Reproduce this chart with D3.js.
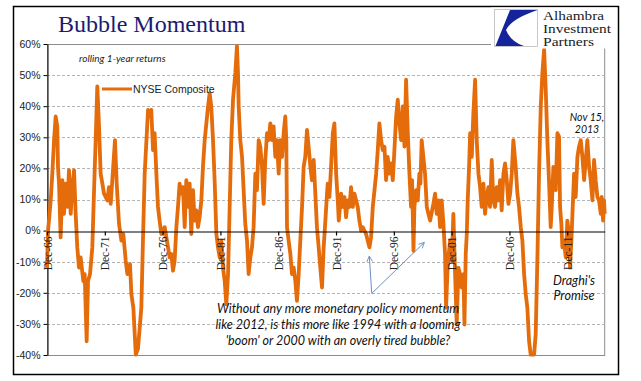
<!DOCTYPE html>
<html>
<head>
<meta charset="utf-8">
<script src="https://cdn.jsdelivr.net/npm/d3@7"></script>
<style>
  body { margin: 0; background: #fff; }
  svg { display: block; }
</style>
</head>
<body>
<script>
// ----- Data -----

// position of each point on the chart's date axis (decimal years)
const yearPos = [
  1966.92, 1967.01, 1967.09, 1967.24, 1967.38, 1967.53, 1967.67, 1967.81, 1967.87, 1967.96,
  1968.10, 1968.25, 1968.39, 1968.53, 1968.68, 1968.82, 1968.97, 1969.11, 1969.26, 1969.40,
  1969.54, 1969.69, 1969.83, 1970.06, 1970.18, 1970.35, 1970.47, 1970.64, 1970.84, 1970.99,
  1971.13, 1971.27, 1971.42, 1971.56, 1971.71, 1971.85, 1972.14, 1972.28, 1972.43, 1972.57,
  1972.80, 1972.95, 1973.15, 1973.35, 1973.52, 1973.73, 1973.87, 1974.10, 1974.22, 1974.39,
  1974.60, 1974.79, 1975.08, 1975.22, 1975.37, 1975.66, 1975.80, 1975.94, 1976.09, 1976.23,
  1976.38, 1976.52, 1976.66, 1976.81, 1977.10, 1977.39, 1977.53, 1977.67, 1977.82, 1977.96,
  1978.11, 1978.25, 1978.39, 1978.54, 1978.68, 1978.83, 1978.97, 1979.12, 1979.26, 1979.40,
  1979.55, 1979.69, 1979.84, 1979.98, 1980.12, 1980.27, 1980.41, 1980.56, 1980.85, 1980.99,
  1981.13, 1981.28, 1981.42, 1981.57, 1981.71, 1981.86, 1982.00, 1982.14, 1982.29, 1982.43,
  1982.58, 1982.72, 1982.86, 1983.01, 1983.21, 1983.35, 1983.44, 1983.50, 1983.64, 1983.79,
  1983.93, 1984.07, 1984.22, 1984.36, 1984.51, 1984.65, 1984.79, 1984.94, 1985.08, 1985.23,
  1985.37, 1985.52, 1985.66, 1985.80, 1985.95, 1986.09, 1986.24, 1986.38, 1986.52, 1986.67,
  1986.81, 1986.96, 1987.10, 1987.25, 1987.39, 1987.53, 1987.62, 1987.68, 1987.82, 1987.97,
  1988.11, 1988.26, 1988.40, 1988.54, 1988.69, 1988.83, 1988.98, 1989.12, 1989.26, 1989.41,
  1989.55, 1989.70, 1989.84, 1989.99, 1990.13, 1990.27, 1990.42, 1990.56, 1990.71, 1990.85,
  1991.00, 1991.14, 1991.20, 1991.35, 1991.49, 1991.64, 1991.78, 1991.93, 1992.07, 1992.16,
  1992.36, 1992.50, 1992.65, 1992.79, 1992.93, 1993.08, 1993.22, 1993.37, 1993.51, 1993.66,
  1993.80, 1993.94, 1994.09, 1994.23, 1994.52, 1994.66, 1994.81, 1994.95, 1995.10, 1995.39,
  1995.53, 1995.67, 1995.82, 1995.96, 1996.11, 1996.25, 1996.39, 1996.54, 1996.68, 1996.83,
  1996.97, 1997.12, 1997.26, 1997.40, 1997.55, 1997.69, 1997.84, 1997.98, 1998.13, 1998.27,
  1998.41, 1998.50, 1998.62, 1998.70, 1998.85, 1998.99, 1999.13, 1999.22, 1999.33, 1999.62,
  1999.77, 1999.91, 2000.06, 2000.34, 2000.49, 2000.63, 2000.78, 2000.92, 2001.06, 2001.21,
  2001.35, 2001.44, 2001.55, 2001.64, 2001.79, 2001.93, 2002.07, 2002.22, 2002.36, 2002.51,
  2002.65, 2002.79, 2002.94, 2003.03, 2003.14, 2003.23, 2003.31, 2003.43, 2003.52, 2003.66,
  2003.80, 2003.95, 2004.09, 2004.24, 2004.38, 2004.52, 2004.67, 2004.81, 2004.96, 2005.10,
  2005.24, 2005.39, 2005.53, 2005.68, 2005.82, 2005.97, 2006.11, 2006.25, 2006.40, 2006.54,
  2006.69, 2006.83, 2006.98, 2007.12, 2007.26, 2007.38, 2007.46, 2007.61, 2007.75, 2007.90,
  2008.04, 2008.19, 2008.33, 2008.47, 2008.62, 2008.76, 2009.05, 2009.19, 2009.34, 2009.48,
  2009.63, 2009.77, 2009.92, 2010.06, 2010.20, 2010.35, 2010.49, 2010.58, 2010.72, 2010.92,
  2011.07, 2011.21, 2011.30, 2011.41, 2011.50, 2011.64, 2011.79, 2011.93, 2012.08, 2012.16,
  2012.28, 2012.37, 2012.51, 2012.65, 2012.80, 2012.94, 2013.09, 2013.23, 2013.38, 2013.52,
  2013.66, 2013.81, 2013.95, 2014.10, 2014.24, 2014.38, 2014.53, 2014.67, 2014.82, 2014.90,
  2015.02, 2015.10, 2015.16
];

// NYSE Composite, rolling 1-year return (%)
const nyseReturns = [
  -12, 0, 3.2, 9.7, 18.3, 29.1, 36.7, 33.5, 20.5, 15.1,
  -2.2, 16.2, 5.4, 15.1, 7.6, 19.4, 5.4, 14.0, 19.4, 5.4,
  -5.4, -11.9, -8.6, -16.2, -14.0, -35.6, -16.2, -14.0, -5.4, 13.0,
  29.1, 46.4, 33.5, 18.3, 15.1, 11.9, 9.7, 14.0, 8.6, 16.2,
  29.1, 15.1, 2.2, -3.2, -1.1, -9.7, -14.0, -10.8, -20.5, -24.8,
  -39.9, -38.0, -24.8, -3.2, 18.3, 38.8, 36.7, 38.8, 25.9, 31.3,
  18.3, 7.6, 3.2, -1.1, 1.1, -5.4, -8.6, -7.5, -12.9, -9.7,
  1.1, 7.6, 15.1, 11.9, 14.0, 1.1, 16.2, 7.6, 15.1, -1.1,
  13.0, 3.2, 6.5, 1.1, 4.3, 9.7, 20.5, 29.1, 39.9, 44.2,
  39.9, 29.1, 16.2, -1.1, -5.4, -8.6, -3.2, -11.9, -16.2, -23.7,
  -14.0, 7.6, 29.1, 42.1, 50.7, 59.3, 50.7, 39.9, 29.1, 23.7,
  13.0, 2.2, -3.2, -14.0, -8.6, -5.4, 1.1, 18.3, 13.0, 29.1,
  27.0, 20.5, 8.6, 22.7, 31.3, 29.1, 34.5, 29.1, 33.5, 23.7,
  29.1, 18.3, 29.1, 23.7, 31.3, 36.7, 29.1, 1.1, -3.2, -7.5,
  -14.0, -11.9, -16.2, -22.6, -14.0, -3.2, 7.6, 20.5, 23.7, 32.4,
  27.0, 20.5, 16.2, 22.7, 11.9, 1.1, -5.4, -11.9, -18.3, -5.4,
  3.2, 11.9, 15.1, 10.8, 20.5, 31.3, 34.5, 18.3, 9.7, 3.2,
  11.9, 7.6, 10.8, 4.3, 9.7, 7.6, 14.0, 7.6, 11.9, 9.7,
  7.6, 3.2, 0.0, 1.1, -1.1, -3.2, -5.4, -2.2, 7.6, 18.3,
  25.9, 34.5, 29.1, 25.9, 27.0, 16.2, 23.7, 18.3, 21.6, 16.2,
  25.9, 36.7, 42.1, 34.5, 29.1, 39.9, 27.0, 48.5, 31.3, 18.3,
  7.6, 16.2, -6.5, 7.6, 13.0, 9.7, 18.3, 15.1, 29.1, 18.3,
  7.6, 5.4, 3.2, 8.6, 11.9, 5.4, 9.7, 1.1, 9.7, 2.2,
  -7.5, -24.8, -14.0, -8.6, -3.2, -9.7, 5.4, -14.0, -30.2, -11.9,
  -14.0, -18.3, -14.0, -30.2, -7.5, -1.1, 9.7, 20.5, 31.3, 23.7,
  37.8, 48.5, 29.1, 18.3, 14.0, 7.6, 15.1, 5.4, 10.8, 14.0,
  7.6, 22.7, 9.7, 7.6, 14.0, 9.7, 16.2, 6.5, 18.3, 21.6,
  16.2, 8.6, 11.9, 18.3, 29.1, 24.0, 20.5, 11.9, 7.6, 1.1,
  -3.2, -14.0, -20.5, -24.8, -35.6, -39.9, -39.9, -33.4, -8.6, 18.3,
  39.9, 50.7, 58.3, 45.3, 29.1, 15.1, 1.1, 7.6, 20.5, 13.0,
  31.3, 30.2, 7.6, 2.2, -5.4, -3.2, -8.6, 3.2, -1.1, -11.9,
  -3.2, 5.4, 18.3, 10.8, 23.7, 27.0, 29.1, 23.7, 16.2, 22.7,
  29.1, 20.5, 16.2, 9.7, 22.7, 16.2, 10.8, 9.7, 5.4, 10.8,
  3.2, 9.7, 5.4
];

const yTicks = [-40, -30, -20, -10, 0, 10, 20, 30, 40, 50, 60];
const gridValues = [-30, -20, -10, 10, 20, 30, 40, 50];
const xTickYears = [1966.92, 1971.92, 1976.92, 1981.92, 1986.92, 1991.92, 1996.92, 2001.92, 2006.92, 2011.92];
const xTickLabels = ["Dec-66", "Dec-71", "Dec-76", "Dec-81", "Dec-86", "Dec-91", "Dec-96", "Dec-01", "Dec-06", "Dec-11"];

const noteLines = [
  "Without any more monetary policy momentum",
  "like 2012, is this more like 1994 with a looming",
  "'boom' or 2000 with an overly tired bubble?"
];
// arrows pointing at the 1994 and 2000 dips: [fromYear, fromValue, toYear, toValue]
const arrows = [
  [1995.01, -20.2, 1994.80, -8.2],
  [1995.01, -20.2, 1999.56, -3.8]
];
const logoLines = ["Alhambra", "Investment", "Partners"];

// ----- Layout -----
const Width = 641, Height = 381;
const PlotLeft = 47, PlotRight = 604.7, PlotTop = 44, PlotBottom = 355;
const LineColor = "#e46c0a";

const svg = d3.select("body").append("svg")
  .attr("width", Width)
  .attr("height", Height);

svg.append("rect")
  .attr("width", Width).attr("height", Height)
  .attr("fill", "#fff");

// outer frame
svg.append("rect")
  .attr("x", 13.5).attr("y", 6.5)
  .attr("width", 605).attr("height", 368)
  .attr("fill", "none")
  .attr("stroke", "#000")
  .attr("stroke-width", 1.5);

// scales
const x = d3.scaleLinear()
  .domain([1966.92, 2015.16])
  .range([PlotLeft, PlotRight]);
const y = d3.scaleLinear()
  .domain([-40, 60])
  .range([PlotBottom, PlotTop]);

// plot area border
svg.append("rect")
  .attr("x", PlotLeft + 0.5).attr("y", PlotTop + 0.5)
  .attr("width", PlotRight - PlotLeft - 0.5)
  .attr("height", PlotBottom - PlotTop)
  .attr("fill", "none")
  .attr("stroke", "#8c8c8c")
  .attr("stroke-width", 1);

// gridlines
svg.append("g")
  .selectAll("line")
  .data(gridValues)
  .join("line")
    .attr("x1", PlotLeft).attr("x2", PlotRight)
    .attr("y1", d => Math.round(y(d)) + 0.5)
    .attr("y2", d => Math.round(y(d)) + 0.5)
    .attr("stroke", "#b4b4b4")
    .attr("stroke-dasharray", "3,2");

// left axis
const leftAxis = d3.axisLeft(y)
  .tickValues(yTicks)
  .tickSize(4)
  .tickSizeOuter(0)
  .tickFormat(d => d + "%");
const yAxisG = svg.append("g")
  .attr("transform", `translate(${PlotLeft + 0.5}, 0)`)
  .call(leftAxis);
yAxisG.selectAll("text")
  .attr("x", -7)
  .style("font-family", "'Liberation Sans', Arial, sans-serif")
  .style("font-size", "10.5px")
  .attr("fill", "#222");
yAxisG.selectAll("line, path").attr("stroke", "#000");

// series
const line = d3.line()
  .x(i => x(yearPos[i]))
  .y(i => y(nyseReturns[i]));
svg.append("path")
  .attr("d", line(d3.range(yearPos.length)))
  .attr("fill", "none")
  .attr("stroke", LineColor)
  .attr("stroke-width", 3.8)
  .attr("stroke-linejoin", "round");

// bottom axis on the 0% line
const bottomAxis = d3.axisBottom(x)
  .tickValues(xTickYears)
  .tickSize(4)
  .tickSizeOuter(0)
  .tickFormat((d, i) => xTickLabels[i]);
const xAxisG = svg.append("g")
  .attr("transform", `translate(0, ${Math.round(y(0)) + 0.5})`)
  .call(bottomAxis);
xAxisG.selectAll("line, path").attr("stroke", "#000").attr("stroke-width", 1.2);
xAxisG.selectAll("text")
  .attr("transform", "rotate(-90)")
  .attr("x", -5).attr("y", 0).attr("dy", "0.35em")
  .attr("text-anchor", "end")
  .style("font-family", "'Liberation Serif', 'Times New Roman', serif")
  .style("font-size", "11.5px")
  .attr("fill", "#222");

// legend and subtitle
svg.append("line")
  .attr("x1", 102).attr("x2", 132)
  .attr("y1", 89).attr("y2", 89)
  .attr("stroke", LineColor)
  .attr("stroke-width", 3);
svg.append("text")
  .attr("x", 133).attr("y", 93)
  .text("NYSE Composite")
  .style("font-family", "'Liberation Sans', Arial, sans-serif")
  .style("font-size", "10.5px")
  .attr("fill", "#222");
svg.append("text")
  .attr("x", 79).attr("y", 62)
  .text("rolling 1-year returns")
  .style("font-family", "Lato, sans-serif")
  .style("font-style", "italic")
  .style("font-size", "10px")
  .attr("fill", "#222");

// title
svg.append("text")
  .attr("x", 58).attr("y", 32)
  .text("Bubble Momentum")
  .style("font-family", "'Liberation Serif', 'Times New Roman', serif")
  .style("font-size", "24px")
  .attr("fill", "#1b1b70");

// logo
svg.append("rect")
  .attr("x", 491).attr("y", 7.5)
  .attr("width", 126).attr("height", 41)
  .attr("fill", "#fff");
svg.append("rect")
  .attr("x", 494.5).attr("y", 9.5)
  .attr("width", 43).attr("height", 37)
  .attr("fill", "#fff")
  .attr("stroke", "#c8c8c8");
svg.append("path")
  .attr("d", "M510,10 L537.5,10 Q511,19 506,30 Q511,42 524,46 L495.5,46 Z")
  .attr("fill", "#16249b");
const logoWidths = [61, 68, 51];
svg.append("g")
  .selectAll("text")
  .data(logoLines)
  .join("text")
    .attr("x", 543)
    .attr("y", (d, i) => 19.5 + i * 13)
    .attr("textLength", (d, i) => logoWidths[i])
    .attr("lengthAdjust", "spacingAndGlyphs")
    .style("font-family", "'Liberation Serif', 'Times New Roman', serif")
    .style("font-size", "12.5px")
    .attr("fill", "#1a1a1a")
    .text(d => d);

// annotations
const noteFont = "Lato, 'Open Sans', sans-serif";
svg.append("g")
  .selectAll("text")
  .data(noteLines)
  .join("text")
    .attr("x", 338)
    .attr("y", (d, i) => 313 + i * 16)
    .attr("text-anchor", "middle")
    .style("font-family", noteFont)
    .style("font-style", "italic")
    .style("font-size", "12.5px")
    .attr("fill", "#111")
    .text(d => d);

const draghi = svg.append("text")
  .attr("text-anchor", "middle")
  .style("font-family", noteFont)
  .style("font-style", "italic")
  .style("font-size", "12.5px")
  .attr("fill", "#111");
draghi.append("tspan").attr("x", 574).attr("y", 285).text("Draghi's");
draghi.append("tspan").attr("x", 574).attr("y", 300).text("Promise");

const dateNote = svg.append("text")
  .attr("text-anchor", "middle")
  .style("font-family", noteFont)
  .style("font-style", "italic")
  .style("font-size", "10.5px")
  .attr("fill", "#111");
dateNote.append("tspan").attr("x", 587).attr("y", 121).text("Nov 15,");
dateNote.append("tspan").attr("x", 587).attr("y", 133).text("2013");

// arrows
svg.append("defs").append("marker")
  .attr("id", "arrowhead")
  .attr("viewBox", "0 0 10 10")
  .attr("refX", 9).attr("refY", 5)
  .attr("markerWidth", 7).attr("markerHeight", 7)
  .attr("orient", "auto")
  .append("path")
    .attr("d", "M1,1 L9,5 L1,9")
    .attr("fill", "none")
    .attr("stroke", "#6a8fc8")
    .attr("stroke-width", 1.3);
svg.append("g")
  .selectAll("line")
  .data(arrows)
  .join("line")
    .attr("x1", d => x(d[0])).attr("y1", d => y(d[1]))
    .attr("x2", d => x(d[2])).attr("y2", d => y(d[3]))
    .attr("stroke", "#6a8fc8")
    .attr("stroke-width", 1)
    .attr("marker-end", "url(#arrowhead)");
</script>
</body>
</html>
